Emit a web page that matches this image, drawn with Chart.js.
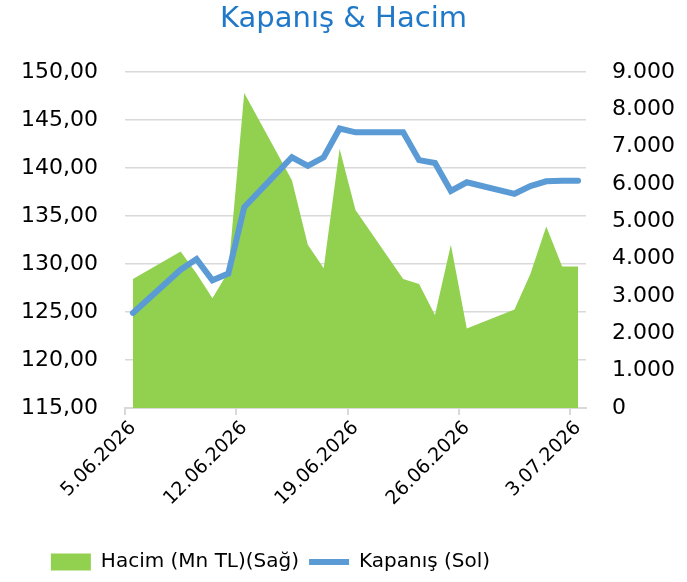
<!DOCTYPE html>
<html>
<head>
<meta charset="utf-8">
<title>Kapanış & Hacim</title>
<script src="https://cdn.jsdelivr.net/npm/chart.js@4"></script>
<style>
  body { margin: 0; background: #fff; }
  #wrap { width: 687px; height: 582px; }
</style>
</head>
<body>
<div id="wrap"><canvas id="chart" width="687" height="582"></canvas></div>
<script>
// trading days (business days only)
const tradingDays = [
  '5.06.2026', '8.06.2026', '9.06.2026', '10.06.2026', '11.06.2026', '12.06.2026',
  '15.06.2026', '16.06.2026', '17.06.2026', '18.06.2026', '19.06.2026',
  '22.06.2026', '23.06.2026', '24.06.2026', '25.06.2026', '26.06.2026',
  '29.06.2026', '30.06.2026', '1.07.2026', '2.07.2026', '3.07.2026'
];
// Kapanış (Sol)
const closes = [
  124.9, 129.4, 130.5, 128.3, 129.0, 135.9,
  141.1, 140.2, 141.1, 144.1, 143.7,
  143.7, 140.8, 140.5, 137.6, 138.5,
  137.3, 138.1, 138.6, 138.65, 138.65
];
// Hacim (Mn TL)(Sağ)
const volumes = [
  3450, 4190, 3600, 2940, 3650, 8430,
  6100, 4370, 3740, 6940, 5300,
  3450, 3320, 2490, 4370, 2130,
  2640, 3590, 4860, 3790, 3790
];
const leftTicks = { min: 115, max: 150, step: 5 };
const rightTicks = { min: 0, max: 9000, step: 1000 };

const FONT = 'DejaVu Sans';

// full calendar between first and last trading day (date axis)
function parseDay(s) {
  const p = s.split('.');
  return Date.UTC(+p[2], +p[1] - 1, +p[0]);
}
function fmtDay(t) {
  const d = new Date(t);
  return d.getUTCDate() + '.' + String(d.getUTCMonth() + 1).padStart(2, '0') + '.' + d.getUTCFullYear();
}
const calendar = [];
for (let t = parseDay(tradingDays[0]); t <= parseDay(tradingDays[tradingDays.length - 1]); t += 86400000) {
  calendar.push(fmtDay(t));
}

const fmtLeft = v => v.toFixed(2).replace('.', ',');
const fmtRight = v => String(v).replace(/\B(?=(\d{3})+(?!\d))/g, '.');

// move the legend a bit to the left, like the original
const legendShift = {
  id: 'legendShift',
  afterLayout(chart) {
    chart.legend.left -= 73;
    chart.legend.right -= 73;
  }
};

new Chart(document.getElementById('chart'), {
  type: 'line',
  data: {
    labels: calendar,
    datasets: [
      {
        label: 'Hacim (Mn TL)(Sağ)',
        data: tradingDays.map((d, i) => ({ x: d, y: volumes[i] })),
        yAxisID: 'y1',
        backgroundColor: '#92D050',
        borderWidth: 0,
        fill: 'origin',
        pointRadius: 0,
        pointStyle: 'rect',
        order: 2
      },
      {
        label: 'Kapanış (Sol)',
        data: tradingDays.map((d, i) => ({ x: d, y: closes[i] })),
        yAxisID: 'y',
        borderColor: '#5B9BD5',
        backgroundColor: '#5B9BD5',
        borderWidth: 6,
        borderCapStyle: 'round',
        fill: false,
        pointRadius: 0,
        pointStyle: 'line',
        order: 1
      }
    ]
  },
  options: {
    responsive: false,
    animation: false,
    layout: { padding: 0 },
    plugins: {
      title: {
        display: true,
        text: 'Kapanış & Hacim',
        color: '#1F78C8',
        font: { family: FONT, size: 29, weight: 'normal' },
        padding: { top: 2, bottom: 35 }
      },
      legend: {
        position: 'bottom',
        labels: {
          usePointStyle: true,
          pointStyleWidth: 40,
          boxHeight: 17,
          padding: 10,
          color: '#000',
          font: { family: FONT, size: 20 },
          sort: (a, b) => a.datasetIndex - b.datasetIndex
        }
      },
      tooltip: { enabled: false }
    },
    scales: {
      x: {
        type: 'category',
        offset: true,
        grid: {
          offset: true,
          drawOnChartArea: false,
          drawTicks: true,
          tickLength: 7,
          lineWidth: 2,
          tickColor: ctx => (ctx.index % 7 === 0 ? '#d9d9d9' : 'rgba(0,0,0,0)')
        },
        border: { color: '#d9d9d9', width: 2 },
        ticks: {
          autoSkip: false,
          minRotation: 45,
          maxRotation: 45,
          padding: 2,
          color: '#000',
          font: { family: FONT, size: 19 },
          callback: (v, i) => (i % 7 === 0 ? calendar[i] : '')
        },
        afterFit: s => { s.height = s.chart.height - 408 - s.chart.legend.height; }
      },
      y: {
        position: 'left',
        min: leftTicks.min,
        max: leftTicks.max,
        ticks: {
          stepSize: leftTicks.step,
          padding: 27,
          color: '#000',
          font: { family: FONT, size: 22 },
          callback: v => fmtLeft(v)
        },
        grid: { color: '#d9d9d9', lineWidth: 1.5, drawTicks: false },
        border: { display: false },
        afterFit: s => { s.width = 125; }
      },
      y1: {
        position: 'right',
        min: rightTicks.min,
        max: rightTicks.max,
        ticks: {
          stepSize: rightTicks.step,
          padding: 26,
          color: '#000',
          font: { family: FONT, size: 22 },
          callback: v => fmtRight(v)
        },
        grid: { drawOnChartArea: false, drawTicks: false },
        border: { display: false },
        afterFit: s => { s.width = 101; }
      }
    }
  },
  plugins: [legendShift]
});
</script>
</body>
</html>
